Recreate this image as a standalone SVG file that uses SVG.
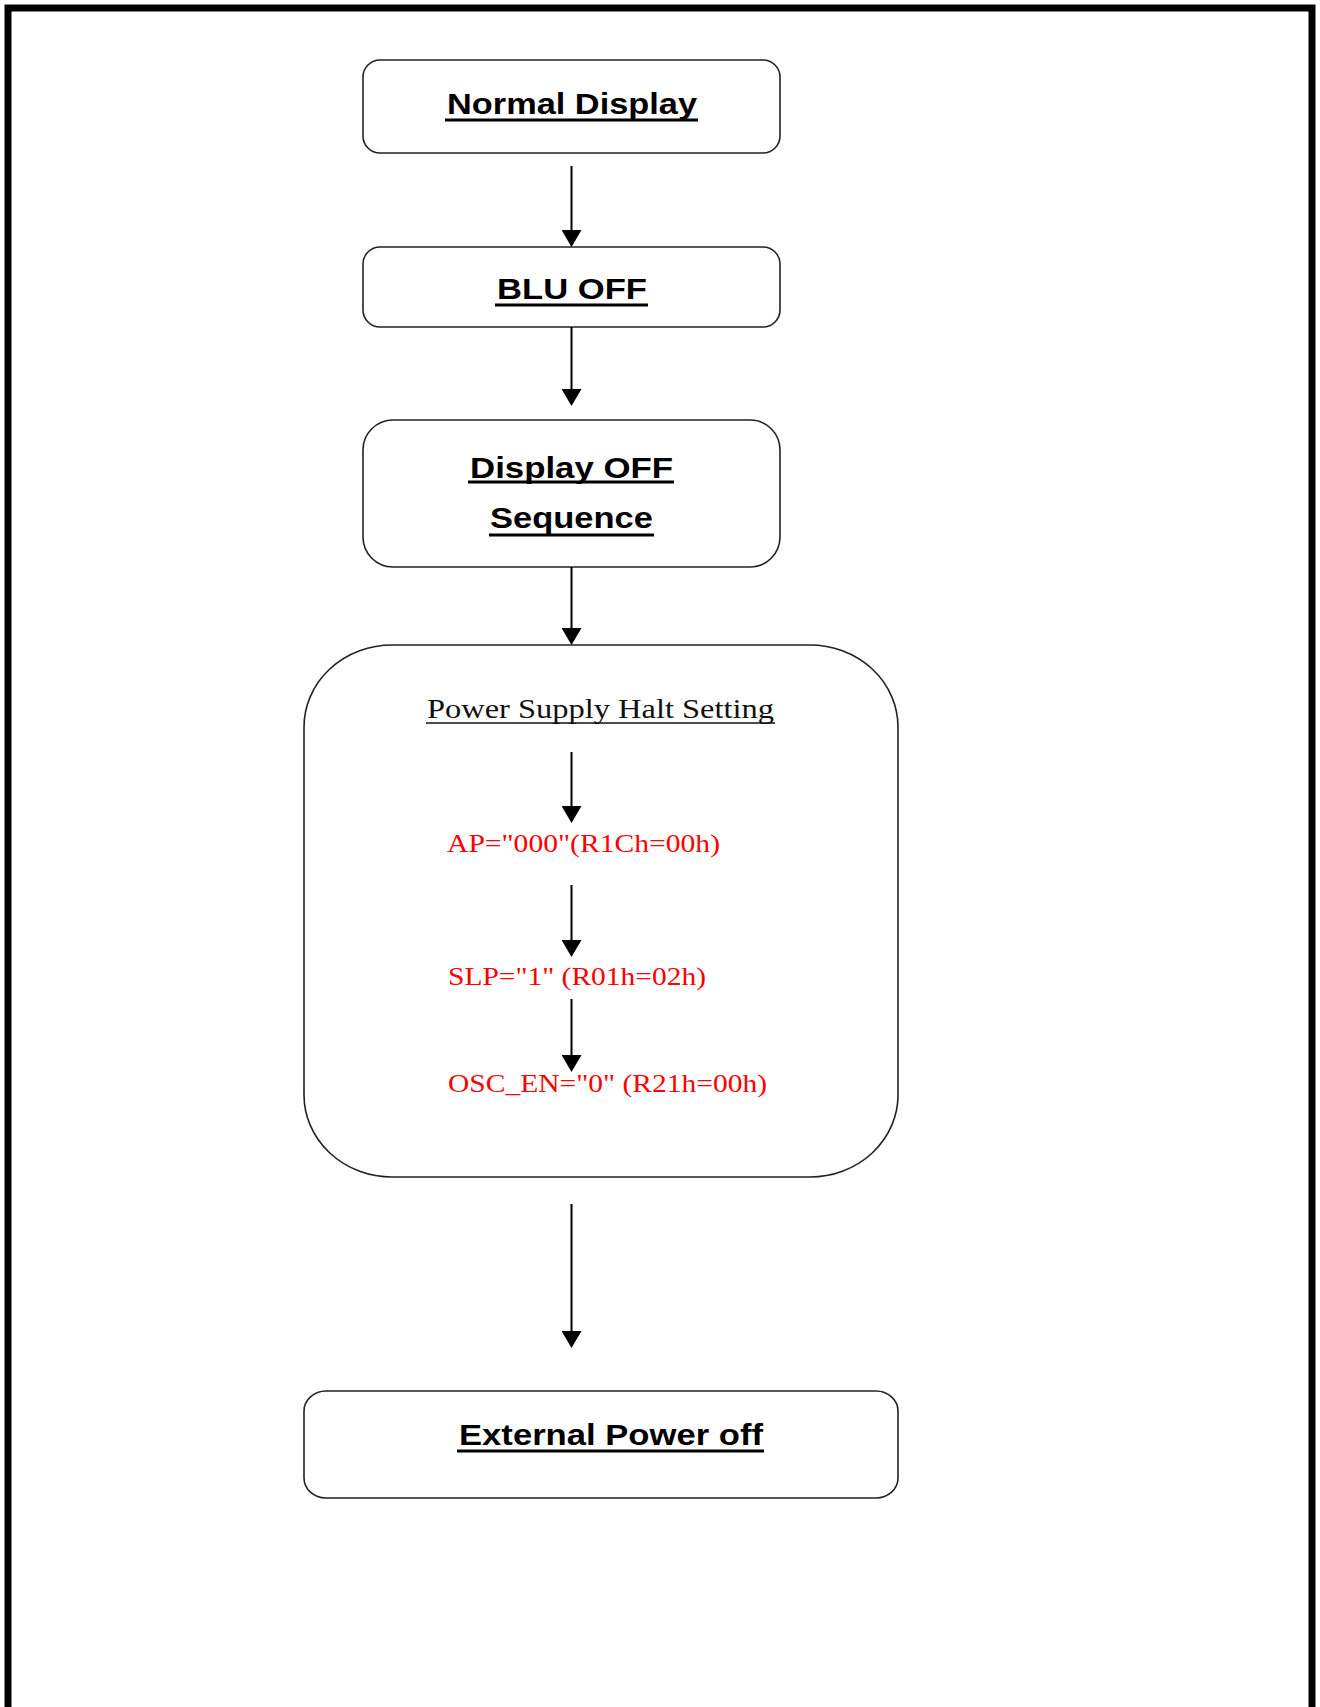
<svg xmlns="http://www.w3.org/2000/svg" width="1320" height="1707" viewBox="0 0 1320 1707">
<style>
.box{fill:#fff;stroke:#222;stroke-width:1.6}
.lbl{font-family:"Liberation Sans",Arial,sans-serif;font-weight:bold;font-size:29px;fill:#000}
.ser{font-family:"Liberation Serif","Times New Roman",serif;font-size:27px;fill:#111}
.reg{font-family:"Liberation Serif","Times New Roman",serif;font-size:26px;fill:#ff0000}
.ul{stroke:#000;stroke-width:3}
.ul2{stroke:#111;stroke-width:1.6}
.conn{stroke:#000;stroke-width:2;fill:none;marker-end:url(#ah)}
</style>
<defs>
<marker id="ah" markerUnits="userSpaceOnUse" markerWidth="18" markerHeight="20" refX="9" refY="10" orient="auto">
<path d="M0,0 L17,10 L0,20 z" fill="#000"/>
</marker>
</defs>
<rect width="1320" height="1707" fill="#fff"/>
<path d="M8,1710 V8 H1312 V1710" fill="none" stroke="#000" stroke-width="7"/>

<g id="node-normal-display">
<rect class="box" x="363" y="60" width="417" height="93" rx="17" ry="17"/>
<text class="lbl" x="447" y="114" textLength="250" lengthAdjust="spacingAndGlyphs">Normal Display</text>
<line class="ul" x1="445" y1="120" x2="698" y2="120"/>
</g>

<g id="node-blu-off">
<rect class="box" x="363" y="247" width="417" height="80" rx="17" ry="17"/>
<text class="lbl" x="497" y="299" textLength="150" lengthAdjust="spacingAndGlyphs">BLU OFF</text>
<line class="ul" x1="495" y1="305" x2="648" y2="305"/>
</g>

<g id="node-display-off">
<rect class="box" x="363" y="420" width="417" height="147" rx="30" ry="30"/>
<text class="lbl" x="470" y="478" textLength="203" lengthAdjust="spacingAndGlyphs">Display OFF</text>
<line class="ul" x1="468" y1="482" x2="674" y2="482"/>
<text class="lbl" x="490" y="528" textLength="163" lengthAdjust="spacingAndGlyphs">Sequence</text>
<line class="ul" x1="489" y1="535" x2="654" y2="535"/>
</g>

<g id="node-power-supply-halt">
<rect class="box" x="304" y="645" width="594" height="532" rx="88" ry="82"/>
<text class="ser" x="427" y="718" textLength="347" lengthAdjust="spacingAndGlyphs">Power Supply Halt Setting</text>
<line class="ul2" x1="426" y1="723" x2="775" y2="723"/>
<text class="reg" x="447" y="852" textLength="273" lengthAdjust="spacingAndGlyphs">AP="000"(R1Ch=00h)</text>
<text class="reg" x="448" y="985" textLength="258" lengthAdjust="spacingAndGlyphs">SLP="1" (R01h=02h)</text>
<text class="reg" x="448" y="1092" textLength="319" lengthAdjust="spacingAndGlyphs">OSC_EN="0" (R21h=00h)</text>
</g>

<g id="node-external-power-off">
<rect class="box" x="304" y="1391" width="594" height="107" rx="22" ry="20"/>
<text class="lbl" x="459" y="1445" textLength="304" lengthAdjust="spacingAndGlyphs">External Power off</text>
<line class="ul" x1="457" y1="1451" x2="764" y2="1451"/>
</g>

<g id="connectors">
<line class="conn" x1="571.5" y1="166" x2="571.5" y2="239"/>
<line class="conn" x1="571.5" y1="327" x2="571.5" y2="398"/>
<line class="conn" x1="571.5" y1="567" x2="571.5" y2="637"/>
<line class="conn" x1="571.5" y1="752" x2="571.5" y2="815"/>
<line class="conn" x1="571.5" y1="885" x2="571.5" y2="949"/>
<line class="conn" x1="571.5" y1="999" x2="571.5" y2="1064"/>
<line class="conn" x1="571.5" y1="1204" x2="571.5" y2="1340"/>
</g>
</svg>
